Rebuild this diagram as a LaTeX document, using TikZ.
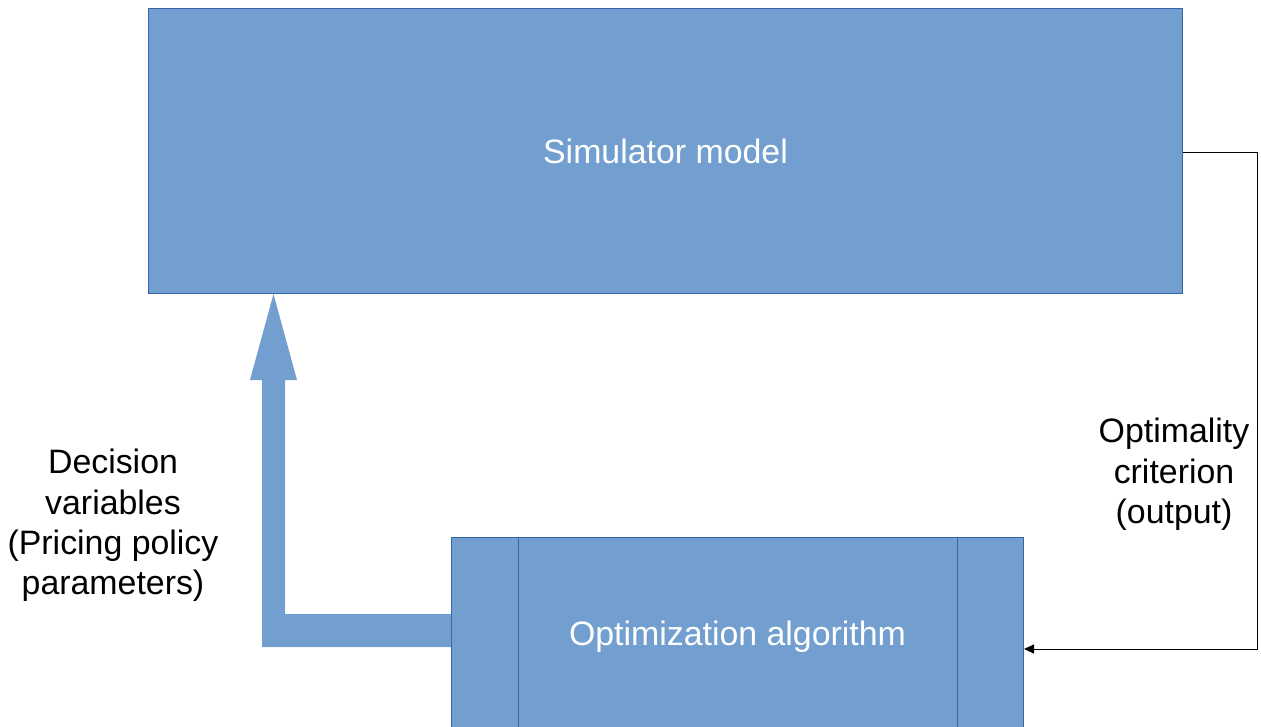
\documentclass[tikz,border=0pt]{standalone}
\usepackage{fontspec}
\setmainfont{Liberation Sans}
\usetikzlibrary{arrows.meta}
\definecolor{boxfill}{HTML}{729FCF}
\definecolor{boxline}{HTML}{3465A4}
\begin{document}
\begin{tikzpicture}[x=1bp,y=-1bp,
  box/.style={draw=boxline, line width=1bp, fill=boxfill, text=white,
    inner sep=0pt, font=\fontsize{34}{40.6}\selectfont},
  label text/.style={align=center, font=\fontsize{34}{40.6}\selectfont},
  feedback/.style={draw=black, line width=1bp,
    -{Triangle[length=10bp,width=9bp]}}]
\useasboundingbox (0,0) rectangle (1261,727);
\clip (0,0) rectangle (1261,727);

% process blocks
\node[box, anchor=north west, minimum width=1034bp, minimum height=285bp]
  (sim) at (148,8) {Simulator model};
\node[box, anchor=north west, minimum width=572bp, minimum height=198bp]
  (opt) at (451,537) {Optimization algorithm};
\draw[boxline, line width=1bp]
  ([xshift=67bp]opt.north west) -- ([xshift=67bp]opt.south west)
  ([xshift=-67bp]opt.north east) -- ([xshift=-67bp]opt.south east);

% wide block arrow carrying the decision variables
\coordinate (tip) at (273.5,293);
\fill[boxfill] (opt.west |- 0,614) -- (285,614) -- (285,380) -- (297,380)
  -- (sim.south -| tip) -- (250,380) -- (262,380) -- (262,647)
  -- (opt.west |- 0,647) -- cycle;

% feedback of the optimality criterion
\coordinate (r1) at (1257,153);
\coordinate (r2) at (1257,649);
\draw[feedback] (sim.east |- r1) -- (r1) -- (r2) -- (opt.east |- r2);

% labels
\node[label text] (dv) at (113,525.5)
  {Decision\\variables\\(Pricing policy\\parameters)};
\node[label text] (oc) at (1174,474.5)
  {Optimality\\criterion\\(output)};
\end{tikzpicture}
\end{document}
